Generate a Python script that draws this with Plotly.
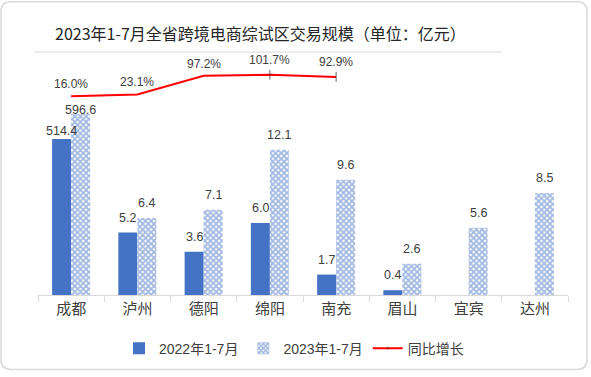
import plotly.graph_objects as go

# ---------------- data ----------------
categories = ["成都", "泸州", "德阳", "绵阳", "南充", "眉山", "宜宾", "达州"]
values_2022 = [514.4, 5.2, 3.6, 6.0, 1.7, 0.4, None, None]
values_2023 = [596.6, 6.4, 7.1, 12.1, 9.6, 2.6, 5.6, 8.5]
growth_pct = [16.0, 23.1, 97.2, 101.7, 92.9, None, None, None]
series_names = ["2022年1-7月", "2023年1-7月", "同比增长"]
title_text = "2023年1-7月全省跨境电商综试区交易规模（单位：亿元）"

# the reference chart draws 成都 on a compressed (broken) scale
COMPRESSED = {"成都": 39.6}

def plotted(vals):
    out = []
    for c, v in zip(categories, vals):
        if v is None:
            out.append(None)
        else:
            out.append(v / COMPRESSED.get(c, 1.0))
    return out

h2022 = plotted(values_2022)
h2023 = plotted(values_2023)

# ---------------- layout geometry ----------------
W, H = 591, 377
L, R, T, B = 38, 23, 57, 79.3
PW, PH = W - L - R, H - T - B

def px(x):
    return (x - L) / PW

def py(y):
    return (H - B - y) / PH

BLUE = "#4472C4"
TXT = "#404040"
FONT = "Liberation Sans, Arial, Noto Sans CJK SC, sans-serif"
CJK = "Noto Sans CJK SC, Microsoft YaHei, sans-serif"

fig = go.Figure()
fig.add_trace(go.Bar(
    x=categories, y=h2022, name=series_names[0],
    marker=dict(color=BLUE, line=dict(width=0)),
))
fig.add_trace(go.Bar(
    x=categories, y=h2023, name=series_names[1],
    marker=dict(color="white", line=dict(width=0),
                pattern=dict(shape="x", fgcolor=BLUE, bgcolor="white",
                             size=4, solidity=0.7, fillmode="overlay")),
))
msize = [0 if (g is None or i < 3) else 7 for i, g in enumerate(growth_pct)]
fig.add_trace(go.Scatter(
    x=categories, y=growth_pct, name=series_names[2], yaxis="y2",
    mode="lines+markers",
    line=dict(color="#FF0000", width=2),
    marker=dict(symbol="line-ns", size=msize, line=dict(color="#262626", width=1), color="#262626"),
    connectgaps=False,
))

annotations = []
HALF = 0.1434
for i, c in enumerate(categories):
    special = c in COMPRESSED
    for vals, hs, off, sh in ((values_2022, h2022, -HALF, 8 if special else 15),
                              (values_2023, h2023, HALF, 4 if special else 15)):
        if vals[i] is None:
            continue
        annotations.append(dict(
            x=i + off, y=hs[i], xref="x", yref="y", text=f"{vals[i]:.1f}",
            showarrow=False, yshift=sh, yanchor="middle",
            font=dict(family=FONT, size=12.5, color=TXT),
        ))
    if growth_pct[i] is not None:
        annotations.append(dict(
            x=i, y=growth_pct[i], xref="x", yref="y2", text=f"{growth_pct[i]:.1f}%",
            showarrow=False, yshift=12 if i < 3 else 15, yanchor="middle",
            font=dict(family=FONT, size=12, color=TXT),
        ))

annotations.append(dict(
    x=px(260), y=py(33), xref="paper", yref="paper", text=title_text,
    showarrow=False, xanchor="center", yanchor="middle",
    font=dict(family=CJK, size=16, color="#262626"),
))

# rounded outer border
x0, x1, y0, y1 = px(1), px(587), py(1), py(373)
rx, ry = 10 / PW, 10 / PH
border = (f"M {x0+rx},{y0} L {x1-rx},{y0} Q {x1},{y0} {x1},{y0-ry} "
          f"L {x1},{y1+ry} Q {x1},{y1} {x1-rx},{y1} L {x0+rx},{y1} "
          f"Q {x0},{y1} {x0},{y1+ry} L {x0},{y0-ry} Q {x0},{y0} {x0+rx},{y0} Z")

shapes = [
    dict(type="path", path=border, xref="paper", yref="paper",
         line=dict(color="#D9D9D9", width=1.5), layer="below"),
    dict(type="line", x0=px(34), x1=px(502), y0=py(52), y1=py(52),
         xref="paper", yref="paper", line=dict(color="#D9D9D9", width=1)),
]

fig.update_layout(
    width=W, height=H,
    margin=dict(l=L, r=R, t=T, b=B),
    paper_bgcolor="white", plot_bgcolor="white",
    barmode="group", bargap=0.4264, bargroupgap=0,
    showlegend=True,
    legend=dict(orientation="h", x=px(294), xanchor="center", y=py(352), yanchor="middle",
                font=dict(family=FONT, size=14, color=TXT), itemwidth=30,
                traceorder="normal", bgcolor="rgba(0,0,0,0)"),
    xaxis=dict(showgrid=False, showline=True, linecolor="#D9D9D9", linewidth=1,
               ticks="outside", tickson="boundaries", ticklen=6, tickcolor="#D9D9D9",
               tickfont=dict(family=CJK, size=15, color=TXT), range=[-0.5, 7.5]),
    yaxis=dict(range=[0, PH / 12.15], showgrid=False, showticklabels=False,
               zeroline=False, showline=False),
    yaxis2=dict(range=[(100.8 - (H - B)) / 0.255, (100.8 - T) / 0.255], overlaying="y",
                side="right", showgrid=False, showticklabels=False, zeroline=False,
                showline=False),
    annotations=annotations,
    shapes=shapes,
)

fig.write_html("out.html", post_script="document.body.style.margin='0';",
               config={"displayModeBar": False})
